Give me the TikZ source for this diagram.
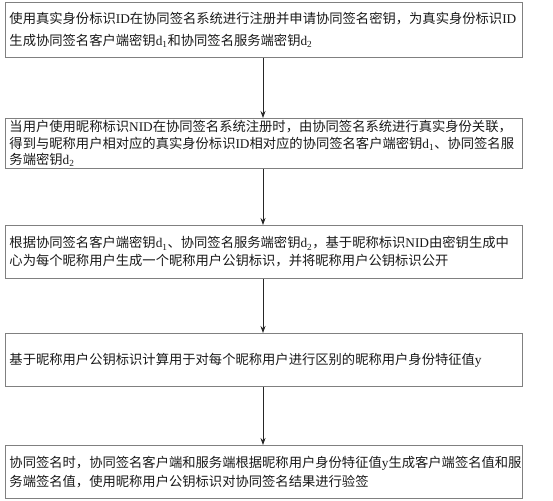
\documentclass[tikz,border=0pt]{standalone}
\usepackage{fontspec}
\setmainfont{Liberation Serif}
\newfontfamily\cjk{Noto Sans CJK SC}
\newfontfamily\lat{Liberation Serif}
\usetikzlibrary{arrows.meta}
\newcommand{\la}[1]{{\lat #1}}
\newcommand{\dd}[1]{{\lat d\textsubscript{#1}}}
\begin{document}
\begin{tikzpicture}[x=1pt,y=1pt,
  stepbox/.style={draw=black!50, line width=0.9pt, anchor=north west,
    text width=509pt, inner xsep=4pt, inner ysep=0pt, align=left,
    font={\cjk\fontsize{13.3}{#1}\selectfont}, text=black!90},
  flow/.style={draw=black!85, line width=0.8pt, -{Stealth[length=7pt,width=5pt]}}]
\useasboundingbox (0,0) rectangle (553,-500);
\node[stepbox=22, minimum height=55pt] (b1) at (5,-2)
  {使用真实身份标识\la{ID}在协同签名系统进行注册并申请协同签名密钥，为真实身份标识\la{ID}\\生成协同签名客户端密钥\dd{1}和协同签名服务端密钥\dd{2}};
\node[stepbox=16.7, minimum height=50pt] (b2) at (5,-118)
  {当用户使用昵称标识\la{NID}在协同签名系统注册时，由协同签名系统进行真实身份关联，\\得到与昵称用户相对应的真实身份标识\la{ID}相对应的协同签名客户端密钥\dd{1}、协同签名服\\务端密钥\dd{2}};
\node[stepbox=18, minimum height=53pt] (b3) at (5,-225)
  {根据协同签名客户端密钥\dd{1}、协同签名服务端密钥\dd{2}，基于昵称标识\la{NID}由密钥生成中\\心为每个昵称用户生成一个昵称用户公钥标识，并将昵称用户公钥标识公开};
\node[stepbox=18, minimum height=53pt] (b4) at (5,-333)
  {基于昵称用户公钥标识计算用于对每个昵称用户进行区别的昵称用户身份特征值\la{y}};
\node[stepbox=19, minimum height=53pt] (b5) at (5,-445)
  {协同签名时，协同签名客户端和服务端根据昵称用户身份特征值\la{y}生成客户端签名值和服\\务端签名值，使用昵称用户公钥标识对协同签名结果进行验签};
\draw[flow] (263,0 |- b1.south) -- (263,0 |- b2.north);
\draw[flow] (263,0 |- b2.south) -- (263,0 |- b3.north);
\draw[flow] (263,0 |- b3.south) -- (263,0 |- b4.north);
\draw[flow] (263,0 |- b4.south) -- (263,0 |- b5.north);
\end{tikzpicture}
\end{document}
